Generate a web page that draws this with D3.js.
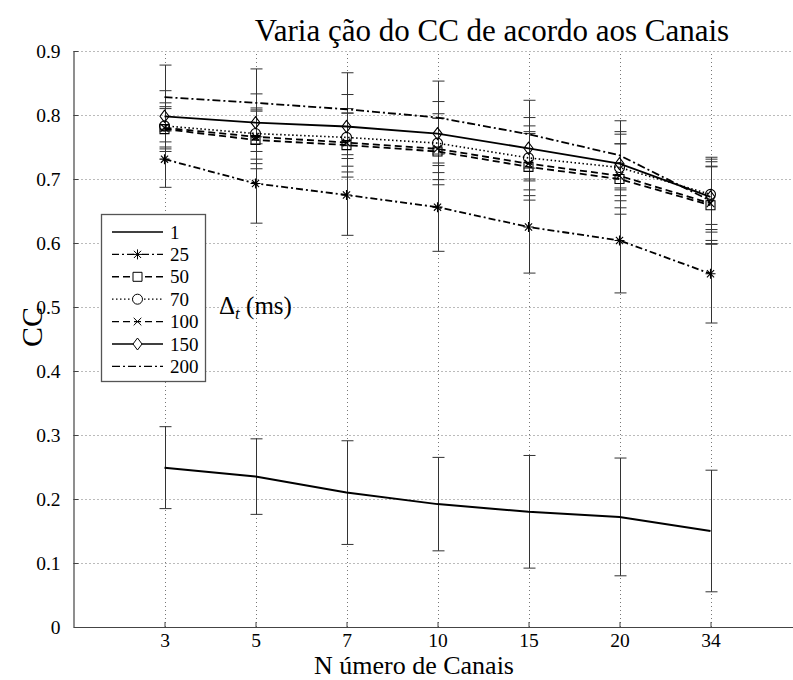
<!DOCTYPE html>
<html>
<head>
<meta charset="utf-8">
<script src="https://cdn.jsdelivr.net/npm/d3@7"></script>
<style>
  html, body { margin: 0; padding: 0; background: #fff; }
  svg { display: block; }
  svg text { font-family: "Liberation Serif", "Times New Roman", serif; fill: #000; }
</style>
</head>
<body>
<svg id="chart" width="793" height="680"></svg>
<script>
// Number of channels (categorical x positions 1..7)
const channels = ["3", "5", "7", "10", "15", "20", "34"];
const yTicks = [0, 0.1, 0.2, 0.3, 0.4, 0.5, 0.6, 0.7, 0.8, 0.9];

// Delta t values (ms) used as series names
const dtLabels = ["1", "25", "50", "70", "100", "150", "200"];

// Mean CC per series and its standard deviation (error bar half length)
const cc1   = [0.249, 0.235, 0.210, 0.192, 0.180, 0.172, 0.150];
const sd1   = [0.064, 0.059, 0.081, 0.073, 0.088, 0.092, 0.095];
const cc25  = [0.731, 0.693, 0.675, 0.656, 0.625, 0.604, 0.552];
const sd25  = [0.044, 0.062, 0.063, 0.069, 0.072, 0.082, 0.077];
const cc50  = [0.778, 0.761, 0.753, 0.743, 0.719, 0.700, 0.659];
const sd50  = [0.035, 0.045, 0.050, 0.052, 0.052, 0.055, 0.060];
const cc70  = [0.783, 0.771, 0.765, 0.756, 0.733, 0.718, 0.676];
const sd70  = [0.036, 0.040, 0.045, 0.046, 0.050, 0.052, 0.055];
const cc100 = [0.780, 0.766, 0.757, 0.747, 0.724, 0.705, 0.662];
const sd100 = [0.030, 0.042, 0.046, 0.048, 0.050, 0.050, 0.058];
const cc150 = [0.798, 0.788, 0.782, 0.771, 0.748, 0.724, 0.672];
const sd150 = [0.040, 0.045, 0.050, 0.050, 0.048, 0.050, 0.055];
const cc200 = [0.828, 0.819, 0.809, 0.796, 0.770, 0.737, 0.666];
const sd200 = [0.050, 0.053, 0.057, 0.057, 0.053, 0.054, 0.068];

const means = [cc1, cc25, cc50, cc70, cc100, cc150, cc200];
const sds   = [sd1, sd25, sd50, sd70, sd100, sd150, sd200];

// Line style and marker for each series
const styles = [
  { dash: null,          marker: null,      width: 2.0 },
  { dash: "7,3,2,3",     marker: "star",    width: 1.8 },
  { dash: "7,4",         marker: "square",  width: 1.8 },
  { dash: "1.5,2.5",     marker: "circle",  width: 1.6 },
  { dash: "7,4",         marker: "x",       width: 1.8 },
  { dash: null,          marker: "diamond", width: 1.8 },
  { dash: "8,3,2,3",     marker: null,      width: 1.8 }
];

const series = dtLabels.map((name, i) => ({
  name,
  style: styles[i],
  values: channels.map((c, j) => ({ idx: j + 1, v: means[i][j], sd: sds[i][j] }))
}));

const svg = d3.select("#chart");

const x = d3.scaleLinear().domain([0, 8]).range([73.5, 801.5]);
const y = d3.scaleLinear().domain([0, 0.9]).range([627, 51]);

// Dotted grid
const grid = svg.append("g").attr("stroke", "#777").attr("stroke-width", 1)
  .attr("stroke-dasharray", "1,3");
grid.selectAll("line.h").data(yTicks.slice(1)).join("line")
  .attr("x1", x(0)).attr("x2", 793)
  .attr("y1", d => Math.round(y(d)) + 0.5).attr("y2", d => Math.round(y(d)) + 0.5);
grid.selectAll("line.v").data(channels).join("line")
  .attr("x1", (d, i) => Math.round(x(i + 1)) + 0.5).attr("x2", (d, i) => Math.round(x(i + 1)) + 0.5)
  .attr("y1", y(0)).attr("y2", y(0.9));

// Axes with inward ticks
const yAxis = svg.append("g").attr("transform", `translate(${x(0)},0)`)
  .call(d3.axisLeft(y).tickValues(yTicks).tickSize(-5).tickSizeOuter(0).tickPadding(13)
    .tickFormat(d => d === 0 ? "0" : d3.format(".1f")(d)));
const xAxis = svg.append("g").attr("transform", `translate(0,${y(0)})`)
  .call(d3.axisBottom(x).tickValues(d3.range(1, 8)).tickSize(-5).tickSizeOuter(0).tickPadding(6)
    .tickFormat(d => channels[d - 1]));
[yAxis, xAxis].forEach(a => {
  a.attr("font-family", null).attr("font-size", null);
  a.selectAll("path.domain").attr("stroke", "#444").attr("stroke-width", 1.2);
  a.selectAll(".tick line").attr("stroke", "#444");
  a.selectAll(".tick text").style("font-size", "19.5px")
    .style("font-family", "'Liberation Serif', 'Times New Roman', serif");
});

// Error bars
const capHalf = 6;
const eb = svg.append("g").attr("stroke", "#333").attr("stroke-width", 1).attr("fill", "none");
series.forEach(s => {
  const g = eb.append("g");
  g.selectAll("path").data(s.values).join("path")
    .attr("d", d => {
      const cx = Math.round(x(d.idx)) + 0.5;
      const y0 = y(d.v - d.sd), y1 = y(d.v + d.sd);
      return `M${cx},${y0}V${y1}M${cx - capHalf},${y0}H${cx + capHalf}M${cx - capHalf},${y1}H${cx + capHalf}`;
    });
});

// Series lines
const line = d3.line().x(d => x(d.idx)).y(d => y(d.v));
series.forEach(s => {
  svg.append("path").datum(s.values)
    .attr("d", line)
    .attr("fill", "none").attr("stroke", "#000")
    .attr("stroke-width", s.style.width)
    .attr("stroke-dasharray", s.style.dash);
});

// Marker shapes
function markerPath(type, cx, cy) {
  switch (type) {
    case "star": {
      const r = 5, q = 3.6;
      return `M${cx - r},${cy}H${cx + r}M${cx},${cy - r}V${cy + r}` +
             `M${cx - q},${cy - q}L${cx + q},${cy + q}M${cx - q},${cy + q}L${cx + q},${cy - q}`;
    }
    case "square": {
      const r = 4.5;
      return `M${cx - r},${cy - r}H${cx + r}V${cy + r}H${cx - r}Z`;
    }
    case "circle": {
      const r = 5;
      return `M${cx + r},${cy}A${r},${r} 0 1,1 ${cx - r},${cy}A${r},${r} 0 1,1 ${cx + r},${cy}Z`;
    }
    case "x": {
      const r = 3.8;
      return `M${cx - r},${cy - r}L${cx + r},${cy + r}M${cx - r},${cy + r}L${cx + r},${cy - r}`;
    }
    case "diamond": {
      const w = 4.5, h = 6;
      return `M${cx},${cy - h}L${cx + w},${cy}L${cx},${cy + h}L${cx - w},${cy}Z`;
    }
  }
  return "";
}

series.forEach(s => {
  if (!s.style.marker) return;
  svg.append("g").selectAll("path").data(s.values).join("path")
    .attr("d", d => markerPath(s.style.marker, x(d.idx), y(d.v)))
    .attr("fill", "none").attr("stroke", "#000").attr("stroke-width", 1.1);
});

// Legend
const lg = svg.append("g");
lg.append("rect").attr("x", 101.5).attr("y", 214.5).attr("width", 104).attr("height", 167)
  .attr("fill", "#fff").attr("stroke", "#555").attr("stroke-width", 1.3);
series.forEach((s, i) => {
  const ly = 232 + i * 22.4;
  lg.append("line").attr("x1", 112).attr("x2", 163).attr("y1", ly).attr("y2", ly)
    .attr("stroke", "#000").attr("stroke-width", s.style.width * 0.8)
    .attr("stroke-dasharray", s.style.dash);
  if (s.style.marker) {
    lg.append("path").attr("d", markerPath(s.style.marker, 137.5, ly))
      .attr("fill", "#fff").attr("stroke", "#000").attr("stroke-width", 1);
  }
  lg.append("text").attr("x", 170).attr("y", ly + 6.5).style("font-size", "19px")
    .text(s.name);
});

// Legend annotation
const dt = svg.append("text").attr("x", 219).attr("y", 314).style("font-size", "25px");
dt.append("tspan").text("Δ");
dt.append("tspan").attr("font-style", "italic").style("font-size", "17px").attr("dy", 5).text("t");
dt.append("tspan").attr("dy", -5).text(" (ms)");

// Titles
svg.append("text").attr("x", 492).attr("y", 41).attr("text-anchor", "middle")
  .style("font-size", "31px").text("Varia ção do CC de acordo aos Canais");
svg.append("text").attr("x", 414).attr("y", 674).attr("text-anchor", "middle")
  .style("font-size", "26px").text("N úmero de Canais");
svg.append("text").attr("transform", "translate(42,327) rotate(-90)").attr("text-anchor", "middle")
  .style("font-size", "30px").text("CC");
</script>
</body>
</html>
